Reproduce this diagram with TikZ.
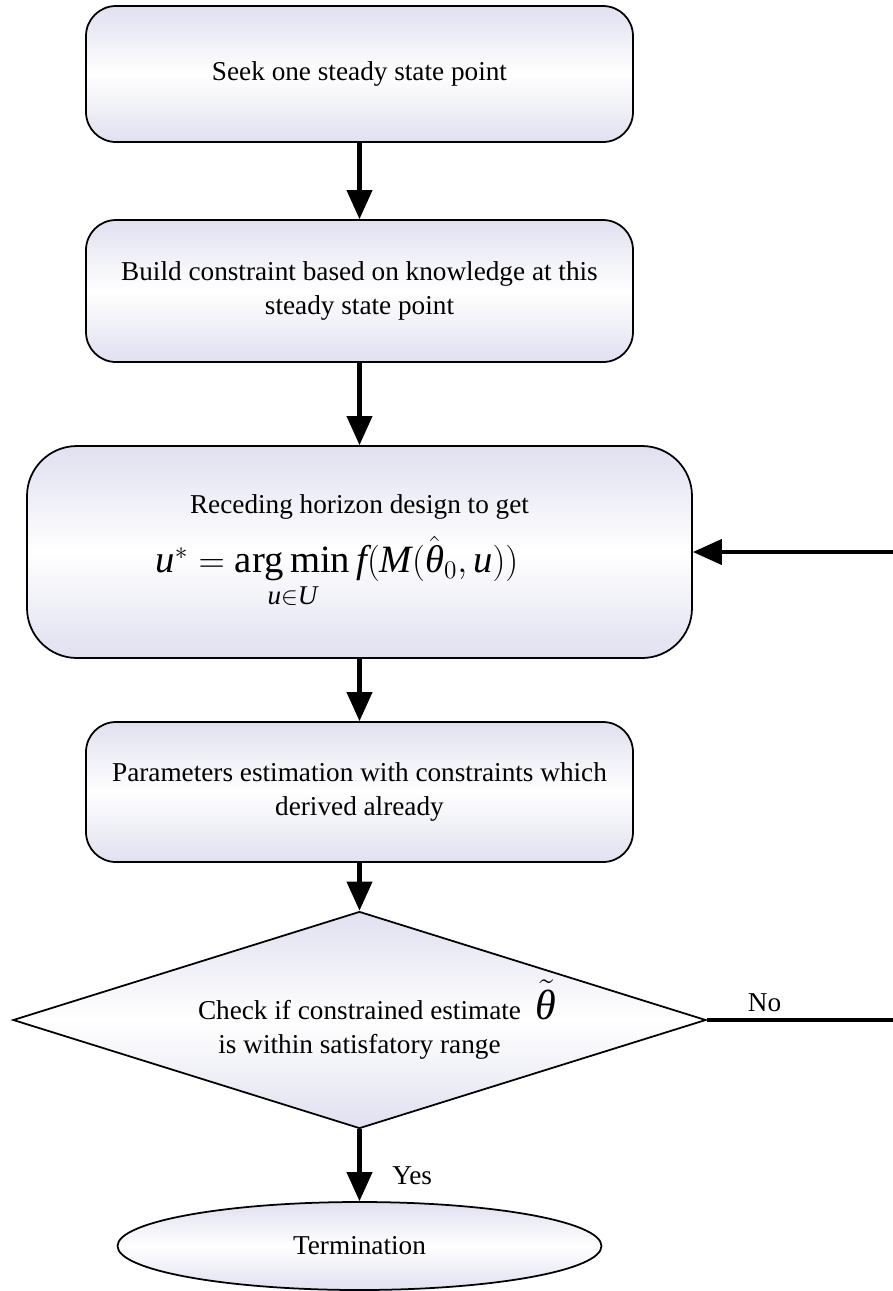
\documentclass[tikz,border=0pt]{standalone}
\usepackage{amsmath}
\usepackage{fontspec}
\setmainfont{Liberation Serif}
\usetikzlibrary{arrows.meta,shapes.geometric}
\definecolor{lav}{RGB}{224,224,240}
\newcommand{\tmi}[1]{\text{\itshape #1}}

\begin{document}
\begin{tikzpicture}[
  lavfill/.style={top color=lav,bottom color=lav,middle color=white},
  box/.style={draw,line width=1pt,lavfill,rounded corners=0.6cm,minimum width=10.94cm,align=center,font=\fontsize{15.5}{19.5}\selectfont},
  flow/.style={-{Triangle[length=0.58cm,width=0.5cm]},line width=2.3pt}
]
\useasboundingbox (0,0) rectangle (17.86,-25.82);
\node[box,minimum height=2.72cm] (seek) at (7.19,-1.48) {Seek one steady state point};
\node[box,minimum height=2.84cm] (build) at (7.19,-5.82) {Build constraint based on knowledge at this\\steady state point};
\node[box,minimum height=4.24cm,minimum width=13.3cm,rounded corners=1cm] (design) at (7.19,-11.04)
  {Receding horizon design to get\\[0.3cm]
  {\fontsize{22}{26}\selectfont$\tmi{u}^{*}=\mathop{\text{arg\,min}}\limits_{\tmi{u}\in \tmi{U}} \tmi{f}(\tmi{M}(\hat{\tmi{θ}}_{0},\tmi{u}))$}\hspace*{0.9cm}};
\node[box,minimum height=2.8cm] (estim) at (7.19,-15.84) {Parameters estimation with constraints which\\derived already};
\node[diamond,aspect=3.19,draw,line width=1pt,lavfill,inner sep=0pt,minimum width=13.86cm,minimum height=4.34cm,align=center,font=\fontsize{15.5}{19.5}\selectfont] (check) at (7.19,-20.4)
  {Check if constrained estimate\rlap{\hspace{0.3cm}{\fontsize{24}{28}\selectfont$\tilde{\tmi{θ}}$}}\\is within satisfatory range};
\node[ellipse,draw,line width=1pt,lavfill,minimum width=9.68cm,minimum height=1.76cm,font=\fontsize{15.5}{19.5}\selectfont] (term) at (7.19,-24.92) {Termination};
\coordinate (back) at (17.86,-11.04);
\coordinate (out) at (17.86,-20.4);
\draw[flow] (seek) -- (build);
\draw[flow] (build) -- (design);
\draw[flow] (design) -- (estim);
\draw[flow] (estim) -- (check);
\draw[flow] (check) -- node[pos=0.65,right=0.5cm,font=\fontsize{15.5}{19.5}\selectfont]{Yes} (term);
\draw[line width=2.3pt] (check.east) -- node[pos=0.31,above,font=\fontsize{15.5}{19.5}\selectfont]{No} (out);
\draw[flow] (back) -- (design);
\end{tikzpicture}
\end{document}
